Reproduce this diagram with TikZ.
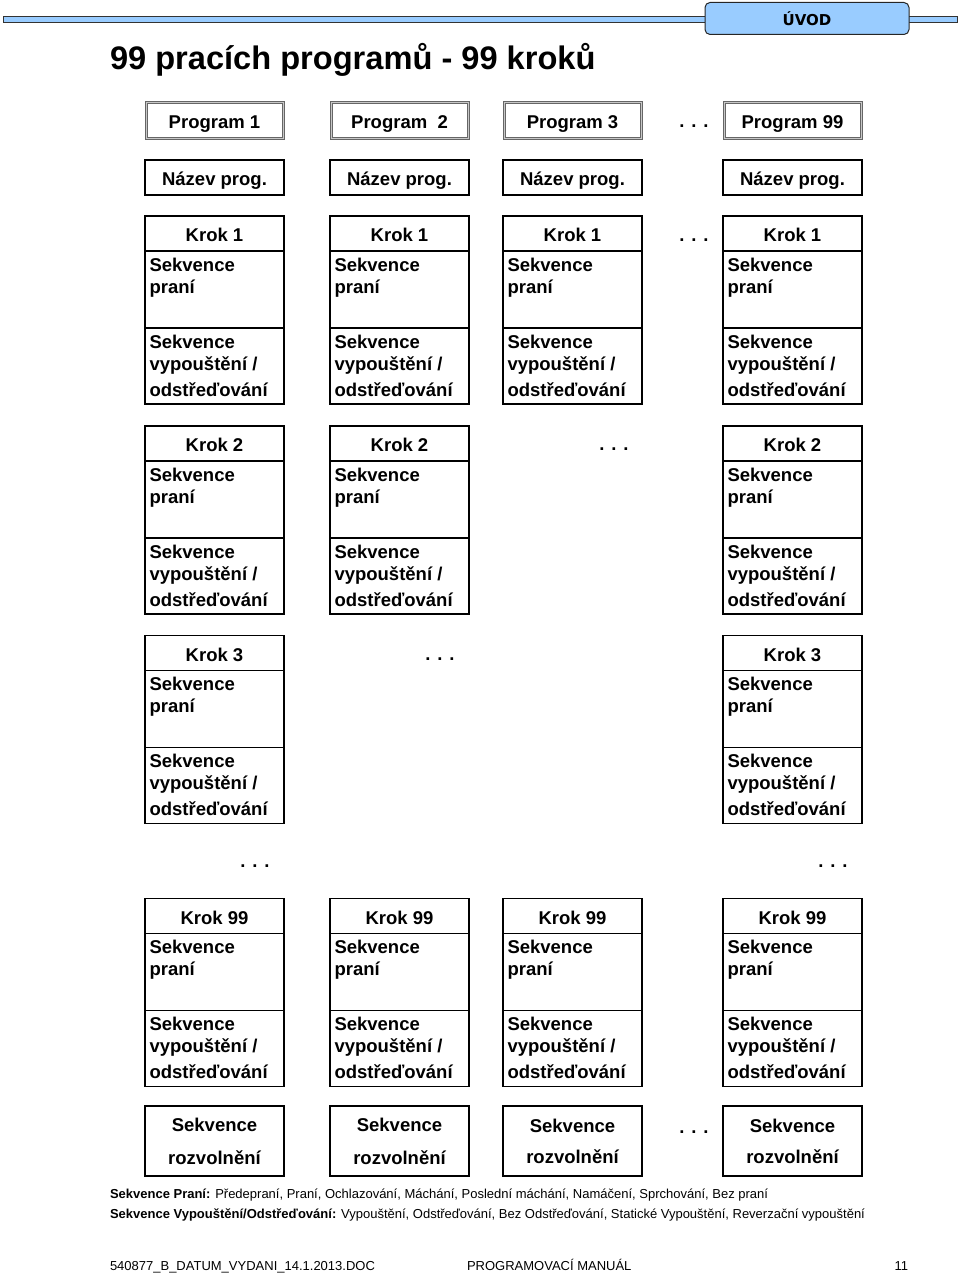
\documentclass[tikz,border=0pt]{standalone}
\usepackage{fontspec}
\setmainfont{Liberation Sans}
\newfontfamily\uvodfont{DejaVu Sans}
\usepackage{tikz}
\usetikzlibrary{positioning}
\definecolor{hlavamodra}{RGB}{153,204,255}
\newcommand\boxfont{\fontsize{18.5}{22}\selectfont\bfseries}

\begin{document}
\begin{tikzpicture}[x=1pt,y=-1pt]
\tikzstyle{every node}=[font=\boxfont, outer sep=0pt]
\tikzstyle{box}=[draw, line width=1.4pt, minimum width=139pt]
\tikzstyle{jeden}=[text height=16pt, text depth=0pt]
\tikzstyle{prog}=[box, jeden, draw=black!60, double=black!22, double distance=1pt, line width=1pt, minimum width=137pt, minimum height=36pt]
\tikzstyle{nazev}=[box, jeden, minimum height=35pt]
\tikzstyle{krok}=[box, jeden, minimum height=35pt]
\tikzstyle{popis}=[anchor=north west, inner xsep=4.5pt, inner ysep=6.8pt, align=left, font=\boxfont]
\tikzstyle{praci}=[box, minimum height=77pt, label={[popis]north west:Sekvence\\praní}]
\tikzstyle{vypous}=[box, minimum height=76pt, label={[popis]north west:Sekvence\\vypouštění /\\[4pt]odstřeďování}]
\tikzstyle{rozvol}=[box, minimum height=70pt, align=center]
\tikzstyle{tecky}=[inner sep=0pt]
\tikzstyle{drobne}=[anchor=base west, inner sep=0pt, font=\fontsize{13}{15}\selectfont]
\useasboundingbox (0,0) rectangle (960,1276);

% hlavicka
\draw[fill=hlavamodra, draw=black!80, line width=0.8pt] (3,16) rectangle (957,22);
\node[draw=black!85, fill=hlavamodra, line width=1pt, rounded corners=5pt, minimum width=204pt, minimum height=32pt, font=\uvodfont\fontsize{15}{18}\selectfont\bfseries] (uvod) at (807,18.5) {ÚVOD};
\node[anchor=base west, inner sep=0pt, font=\fontsize{32.6}{38}\selectfont\bfseries] (titul) at (110,70) {99 pracích programů - 99 kroků};

% programy
\node[prog] (p1) at (214.5,121) {Program 1};
\node[prog] (p2) at (399.5,121) {Program~~2};
\node[prog] (p3) at (572.5,121) {Program 3};
\node[prog] (p99) at (792.5,121) {Program 99};
\node[tecky] (t1) at (694,126) {. . .};
\node[nazev] (n1) at (214.5,177.5) {Název prog.};
\node[nazev] (n2) at (399.5,177.5) {Název prog.};
\node[nazev] (n3) at (572.5,177.5) {Název prog.};
\node[nazev] (n99) at (792.5,177.5) {Název prog.};

% krok 1
\node[krok] (p1k1) at (214.5,233.5) {Krok 1};
\node[praci, below=0pt of p1k1] (p1k1p) {};
\node[vypous, below=0pt of p1k1p] (p1k1v) {};
\node[krok] (p2k1) at (399.5,233.5) {Krok 1};
\node[praci, below=0pt of p2k1] (p2k1p) {};
\node[vypous, below=0pt of p2k1p] (p2k1v) {};
\node[krok] (p3k1) at (572.5,233.5) {Krok 1};
\node[praci, below=0pt of p3k1] (p3k1p) {};
\node[vypous, below=0pt of p3k1p] (p3k1v) {};
\node[tecky] (t2) at (694,240) {. . .};
\node[krok] (p99k1) at (792.5,233.5) {Krok 1};
\node[praci, below=0pt of p99k1] (p99k1p) {};
\node[vypous, below=0pt of p99k1p] (p99k1v) {};

% krok 2
\node[krok] (p1k2) at (214.5,443.5) {Krok 2};
\node[praci, below=0pt of p1k2] (p1k2p) {};
\node[vypous, below=0pt of p1k2p] (p1k2v) {};
\node[krok] (p2k2) at (399.5,443.5) {Krok 2};
\node[praci, below=0pt of p2k2] (p2k2p) {};
\node[vypous, below=0pt of p2k2p] (p2k2v) {};
\node[tecky] (t3) at (614,449) {. . .};
\node[krok] (p99k2) at (792.5,443.5) {Krok 2};
\node[praci, below=0pt of p99k2] (p99k2p) {};
\node[vypous, below=0pt of p99k2p] (p99k2v) {};

% krok 3
\node[krok] (p1k3) at (214.5,653) {Krok 3};
\node[praci, below=0pt of p1k3] (p1k3p) {};
\node[vypous, below=0pt of p1k3p] (p1k3v) {};
\node[tecky] (t4) at (440,659) {. . .};
\node[krok] (p99k3) at (792.5,653) {Krok 3};
\node[praci, below=0pt of p99k3] (p99k3p) {};
\node[vypous, below=0pt of p99k3p] (p99k3v) {};
\node[tecky] (t5) at (255,866) {. . .};
\node[tecky] (t6) at (833,866) {. . .};

% krok 99
\node[krok] (p1k99) at (214.5,916) {Krok 99};
\node[praci, below=0pt of p1k99] (p1k99p) {};
\node[vypous, below=0pt of p1k99p] (p1k99v) {};
\node[krok] (p2k99) at (399.5,916) {Krok 99};
\node[praci, below=0pt of p2k99] (p2k99p) {};
\node[vypous, below=0pt of p2k99p] (p2k99v) {};
\node[krok] (p3k99) at (572.5,916) {Krok 99};
\node[praci, below=0pt of p3k99] (p3k99p) {};
\node[vypous, below=0pt of p3k99p] (p3k99v) {};
\node[krok] (p99k99) at (792.5,916) {Krok 99};
\node[praci, below=0pt of p99k99] (p99k99p) {};
\node[vypous, below=0pt of p99k99p] (p99k99v) {};

% rozvolneni
\node[rozvol] (r1) at (214.5,1141) {Sekvence\\[11pt]rozvolnění};
\node[rozvol] (r2) at (399.5,1141) {Sekvence\\[11pt]rozvolnění};
\node[rozvol] (r3) at (572.5,1141) {Sekvence\\[9pt]rozvolnění};
\node[tecky] (t7) at (694,1132) {. . .};
\node[rozvol] (r99) at (792.5,1141) {Sekvence\\[9pt]rozvolnění};

% legenda a paticka
\node[drobne] (leg1) at (110,1198.5) {\textbf{Sekvence Praní:} Předepraní, Praní, Ochlazování, Máchání, Poslední máchání, Namáčení, Sprchování, Bez praní};
\node[drobne] (leg2) at (110,1218.5) {\textbf{Sekvence Vypouštění/Odstřeďování:} Vypouštění, Odstřeďování, Bez Odstřeďování, Statické Vypouštění, Reverzační vypouštění};
\node[drobne] (pat1) at (110,1270) {540877\_B\_DATUM\_VYDANI\_14.1.2013.DOC};
\node[drobne] (pat2) at (467,1270) {PROGRAMOVACÍ MANUÁL};
\node[drobne, anchor=base east] (pat3) at (908,1270) {11};
\end{tikzpicture}
\end{document}
